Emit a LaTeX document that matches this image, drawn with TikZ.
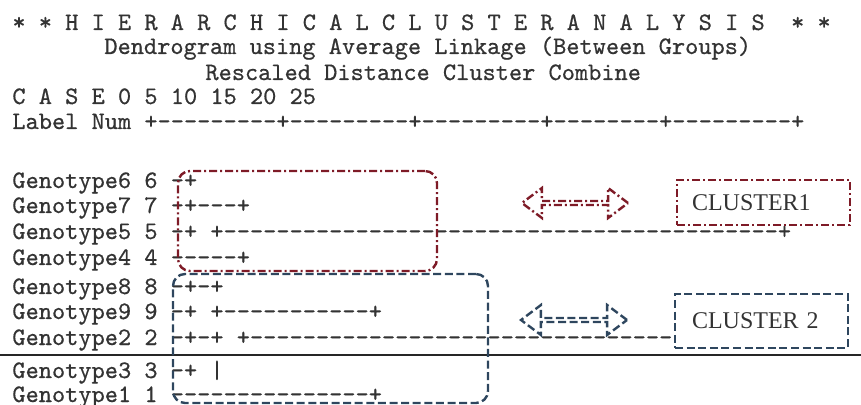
\documentclass[tikz,border=0pt]{standalone}
\usepackage{fontspec}
\usepackage{tikz}
\usepackage{xcolor}
\setmonofont{lmmono10-regular}[Extension=.otf, FakeBold=0.6]
\newfontfamily\clusterfont{Liberation Serif}
\usetikzlibrary{shapes.arrows, positioning}

\definecolor{clusterred}{HTML}{7E1B27}
\definecolor{clusterblue}{HTML}{2E465E}

\begin{document}
\begin{tikzpicture}[x=0.5pt, y=-0.5pt,
    outtext/.style={anchor=base west, inner sep=0pt, text=black!80, font=\ttfamily\fontsize{12.57pt}{14pt}\selectfont},
    redline/.style={draw=clusterred, line width=1.2pt, dash pattern=on 4pt off 1.5pt on 1pt off 1.5pt},
    blueline/.style={draw=clusterblue, line width=1.2pt, dash pattern=on 4pt off 1.8pt},
    namebox/.style={align=left, text=black!80, font=\clusterfont\fontsize{12pt}{14pt}\selectfont},
    groupbox/.style={rounded corners=6pt, inner sep=0pt},
    pointer/.style={double arrow, inner sep=0pt, minimum height=53pt, minimum width=15pt, double arrow head extend=4pt, double arrow tip angle=74, line width=0.9pt}]

    \useasboundingbox (0,0) rectangle (861,405);

    % header
    \node[outtext] (title) at (12,30) {* * H I E R A R C H I C A L C L U S T E R A N A L Y S I S~~* *};
    \node[outtext] (method) at (104,54) {Dendrogram using Average Linkage (Between Groups)};
    \node[outtext] (scale) at (205,80) {Rescaled Distance Cluster Combine};
    \node[outtext] (case) at (12,104) {C A S E 0 5 10 15 20 25};
    \node[outtext] (axis) at (12,129) {Label Num +---------+---------+---------+--------+---------+};

    % dendrogram rows
    \node[outtext] (g6) at (12,188) {Genotype6 6 -+};
    \node[outtext] (g7) at (12,213) {Genotype7 7 -+---+};
    \node[outtext] (g5) at (12,239) {Genotype5 5 -+ +------------------------------------------+};
    \node[outtext] (g4) at (12,265) {Genotype4 4 -----+};
    \node[outtext] (g8) at (12,294) {Genotype8 8 -+-+};
    \node[outtext] (g9) at (12,319) {Genotype9 9 -+ +-----------+};
    \node[outtext] (g2) at (12,345) {Genotype2 2 -+-+ +--------------------------------};
    \node[outtext] (g3) at (12,378) {Genotype3 3 -+ |};
    \node[outtext] (g1) at (12,402) {Genotype1 1 ---------------+};

    \draw[line width=1pt, black!85] (0,355) -- (861,355);

    % cluster groups
    \node[groupbox, blueline, minimum width=157.5pt, minimum height=64.5pt] (grp2) at (330.5,338.5) {};
    \node[groupbox, redline, minimum width=129.5pt, minimum height=50pt] (grp1) at (307.5,221) {};

    \node[pointer, redline] (arr1) at (575,203) {};
    \node[pointer, blueline] (arr2) at (574,320) {};

    \node[namebox, redline, text width=71.5pt, inner xsep=7.5pt, minimum height=22.5pt] (c1) at (763.5,202.5) {CLUSTER1};
    \node[namebox, blueline, text width=69.5pt, inner xsep=8.5pt, minimum height=27pt] (c2) at (761.5,321) {CLUSTER 2};
\end{tikzpicture}
\end{document}
